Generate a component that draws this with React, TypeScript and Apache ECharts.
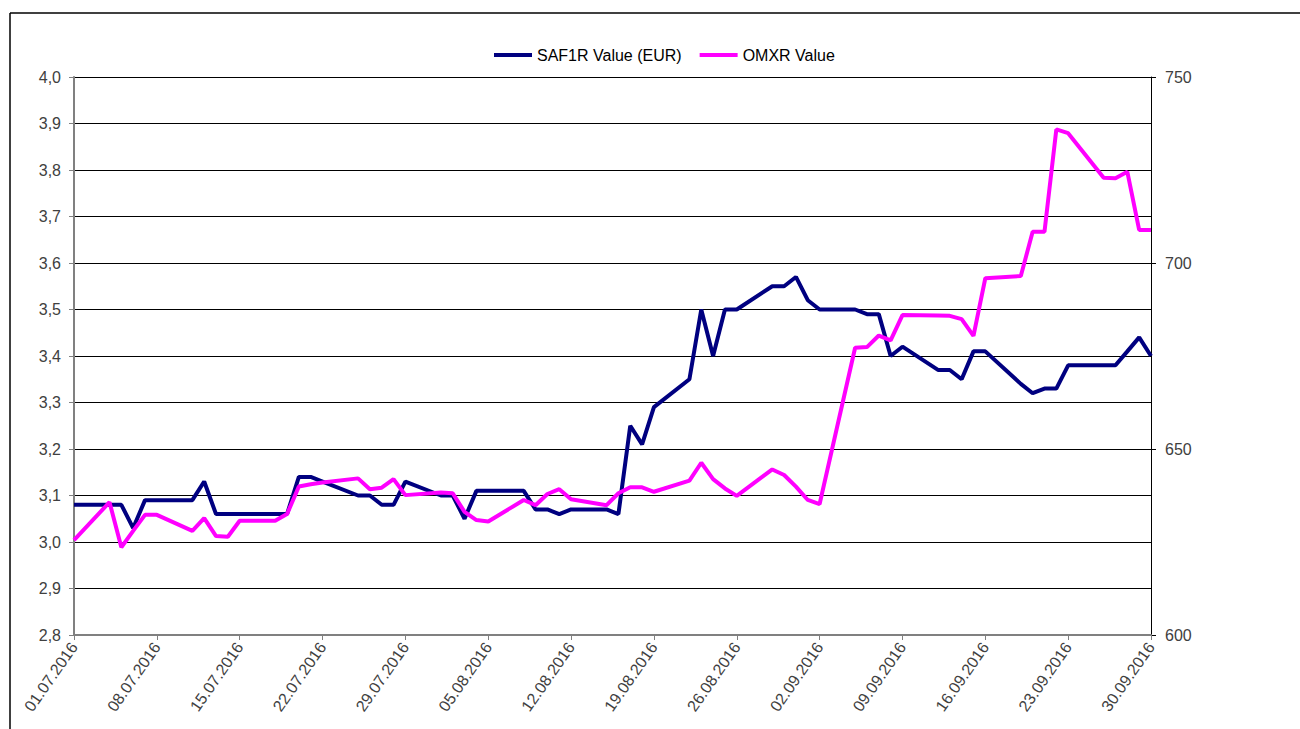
import React, { useEffect, useRef } from "react";
import * as echarts from "echarts";

// Trading days shown in the chart (dd.mm.yyyy)
const tradingDates: string[] = [
  "01.07.2016", "04.07.2016", "05.07.2016", "06.07.2016", "07.07.2016", "08.07.2016",
  "11.07.2016", "12.07.2016", "13.07.2016", "14.07.2016", "15.07.2016",
  "18.07.2016", "19.07.2016", "20.07.2016", "21.07.2016", "22.07.2016",
  "25.07.2016", "26.07.2016", "27.07.2016", "28.07.2016", "29.07.2016",
  "01.08.2016", "02.08.2016", "03.08.2016", "04.08.2016", "05.08.2016",
  "08.08.2016", "09.08.2016", "10.08.2016", "11.08.2016", "12.08.2016",
  "15.08.2016", "16.08.2016", "17.08.2016", "18.08.2016", "19.08.2016",
  "22.08.2016", "23.08.2016", "24.08.2016", "25.08.2016", "26.08.2016",
  "29.08.2016", "30.08.2016", "31.08.2016", "01.09.2016", "02.09.2016",
  "05.09.2016", "06.09.2016", "07.09.2016", "08.09.2016", "09.09.2016",
  "12.09.2016", "13.09.2016", "14.09.2016", "15.09.2016", "16.09.2016",
  "19.09.2016", "20.09.2016", "21.09.2016", "22.09.2016", "23.09.2016",
  "26.09.2016", "27.09.2016", "28.09.2016", "29.09.2016", "30.09.2016",
];

const saf1rValues: number[] = [
  3.08, 3.08, 3.08, 3.03, 3.09, 3.09,
  3.09, 3.13, 3.06, 3.06, 3.06,
  3.06, 3.06, 3.14, 3.14, 3.13,
  3.10, 3.10, 3.08, 3.08, 3.13,
  3.10, 3.10, 3.05, 3.11, 3.11,
  3.11, 3.07, 3.07, 3.06, 3.07,
  3.07, 3.06, 3.25, 3.21, 3.29,
  3.35, 3.50, 3.40, 3.50, 3.50,
  3.55, 3.55, 3.57, 3.52, 3.50,
  3.50, 3.49, 3.49, 3.40, 3.42,
  3.37, 3.37, 3.35, 3.41, 3.41,
  3.34, 3.32, 3.33, 3.33, 3.38,
  3.38, 3.38, 3.41, 3.44, 3.40,
];

const omxrValues: number[] = [
  625.5, 635.7, 623.6, 628.0, 632.3, 632.3,
  628.0, 631.4, 626.6, 626.4, 630.7,
  630.7, 632.5, 639.9, 640.5, 641.0,
  642.1, 639.2, 639.6, 641.9, 637.6,
  638.3, 638.1, 633.1, 630.9, 630.5,
  636.3, 634.9, 637.9, 639.2, 636.5,
  634.9, 638.1, 639.7, 639.7, 638.5,
  641.5, 646.3, 641.9, 639.4, 637.4,
  644.5, 643.0, 639.9, 636.3, 635.2,
  677.2, 677.4, 680.5, 679.2, 686.0,
  685.9, 685.8, 684.9, 680.4, 695.9,
  696.5, 708.4, 708.4, 735.9, 734.9,
  722.9, 722.8, 724.5, 708.9, 708.9,
];

const seriesNames: string[] = ["SAF1R Value (EUR)", "OMXR Value"];
const firstDay = "01.07.2016";
const lastDay = "30.09.2016";

function parseDate(s: string): Date {
  const [d, m, y] = s.split(".").map(Number);
  return new Date(Date.UTC(y, m - 1, d));
}
function fmt(dt: Date): string {
  const d = String(dt.getUTCDate()).padStart(2, "0");
  const m = String(dt.getUTCMonth() + 1).padStart(2, "0");
  return `${d}.${m}.${dt.getUTCFullYear()}`;
}

// every calendar day between first and last as a category
const calendarDays: string[] = (() => {
  const out: string[] = [];
  const end = parseDate(lastDay).getTime();
  for (let t = parseDate(firstDay).getTime(); t <= end; t += 86400000) {
    out.push(fmt(new Date(t)));
  }
  return out;
})();

function align(values: number[]): (number | null)[] {
  const map = new Map<string, number>();
  tradingDates.forEach((d, i) => map.set(d, values[i]));
  return calendarDays.map((d) => (map.has(d) ? (map.get(d) as number) : null));
}

export default function App() {
  const ref = useRef<HTMLDivElement>(null);

  useEffect(() => {
    if (!ref.current) return;
    const chart = echarts.init(ref.current, undefined, { renderer: "svg" });
    const labelColor = "#404040";
    chart.setOption({
      animation: false,
      backgroundColor: "#ffffff",
      textStyle: { fontFamily: "Liberation Sans, Arial, sans-serif" },
      graphic: [
        { type: "line", shape: { x1: 10, y1: 13, x2: 1300, y2: 13 }, style: { stroke: "#000", lineWidth: 1.5 } },
        { type: "line", shape: { x1: 10, y1: 13, x2: 10, y2: 729 }, style: { stroke: "#000", lineWidth: 1.5 } },
      ],
      legend: {
        left: 489,
        top: 42,
        itemWidth: 38,
        itemHeight: 4,
        itemGap: 18,
        icon: "rect",
        textStyle: { fontSize: 16, color: "#000", fontFamily: "Liberation Sans, Arial, sans-serif" },
        data: seriesNames,
      },
      grid: { left: 74, right: 149, top: 77, bottom: 94, containLabel: false },
      xAxis: {
        type: "category",
        data: calendarDays,
        boundaryGap: false,
        axisLine: { lineStyle: { color: "#808080", width: 2 } },
        axisTick: { show: true, interval: 6, length: 5, lineStyle: { color: "#808080", width: 1 } },
        axisLabel: {
          interval: 6,
          rotate: 55,
          margin: 9,
          fontSize: 16,
          color: labelColor,
          fontFamily: "Liberation Sans, Arial, sans-serif",
        },
        splitLine: { show: false },
      },
      yAxis: [
        {
          type: "value",
          min: 2.8,
          max: 4.0,
          interval: 0.1,
          position: "left",
          axisLine: { show: true, lineStyle: { color: "#808080", width: 2 } },
          axisTick: { show: true, length: 5, lineStyle: { color: "#808080" } },
          axisLabel: {
            margin: 13,
            fontSize: 16,
            color: labelColor,
            fontFamily: "Liberation Sans, Arial, sans-serif",
            formatter: (v: number) => v.toFixed(1).replace(".", ","),
          },
          splitLine: { show: true, lineStyle: { color: "#000", width: 1 } },
        },
        {
          type: "value",
          min: 600,
          max: 750,
          interval: 50,
          position: "right",
          axisLine: { show: true, lineStyle: { color: "#000", width: 1 } },
          axisTick: { show: true, length: 5, lineStyle: { color: "#000" } },
          axisLabel: {
            margin: 14,
            fontSize: 16,
            color: labelColor,
            fontFamily: "Liberation Sans, Arial, sans-serif",
          },
          splitLine: { show: false },
        },
      ],
      series: [
        {
          name: seriesNames[0],
          type: "line",
          yAxisIndex: 0,
          data: align(saf1rValues),
          connectNulls: true,
          showSymbol: false,
          symbol: "none",
          color: "#000080",
          lineStyle: { color: "#000080", width: 4 },
          z: 2,
        },
        {
          name: seriesNames[1],
          type: "line",
          yAxisIndex: 1,
          data: align(omxrValues),
          connectNulls: true,
          showSymbol: false,
          symbol: "none",
          color: "#ff00ff",
          lineStyle: { color: "#ff00ff", width: 4 },
          z: 3,
        },
      ],
    });
    return () => chart.dispose();
  }, []);

  return (
    <div
      ref={ref}
      style={{ position: "absolute", left: 0, top: 0, width: 1300, height: 729, background: "#fff" }}
    />
  );
}
